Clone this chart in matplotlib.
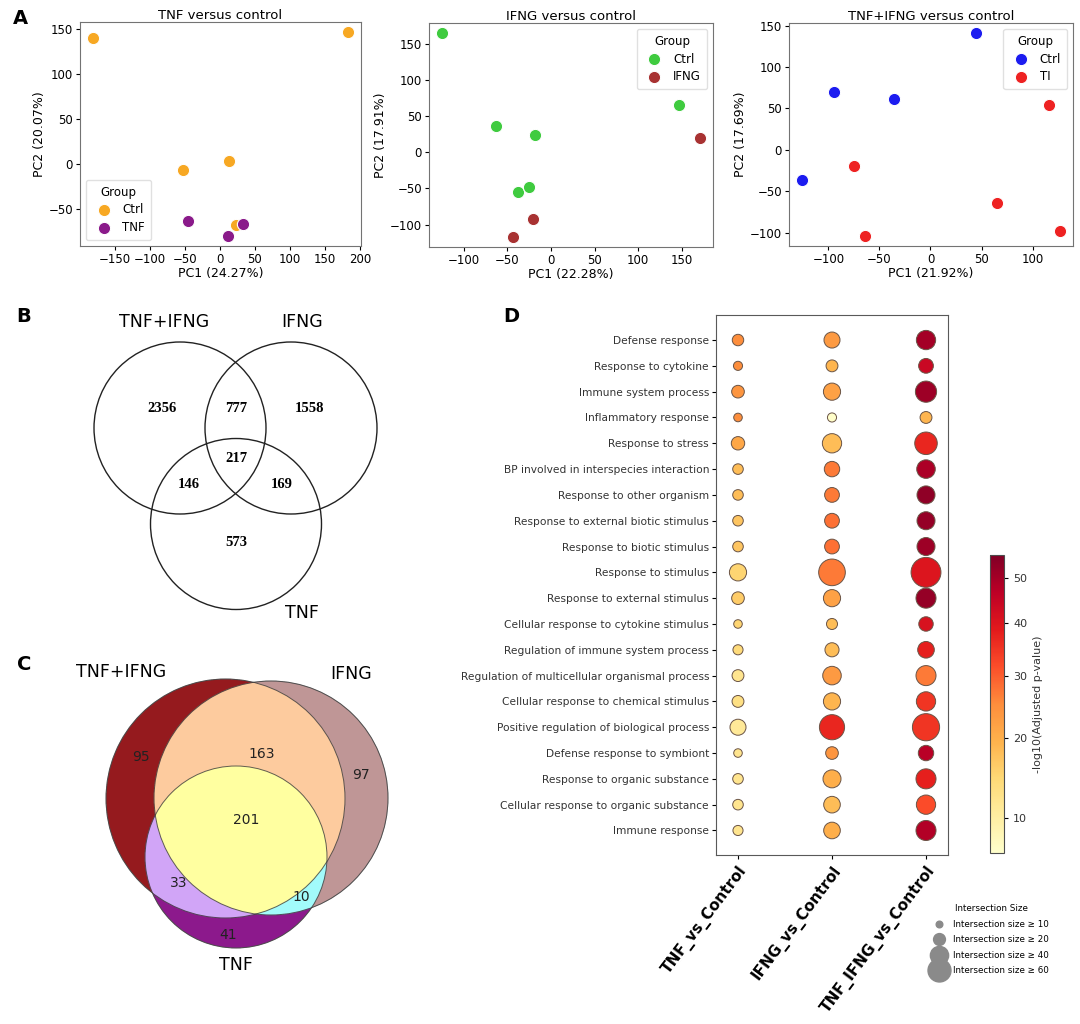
import numpy as np
import matplotlib

matplotlib.use("Agg")
import matplotlib.pyplot as plt
from matplotlib.colors import FuncNorm, to_rgba
from matplotlib.lines import Line2D
from matplotlib.patches import Circle
from matplotlib.ticker import MultipleLocator

W, H = 1080, 1024

# ---------------- panel A: PCA scores ----------------
tnf_ctrl_pc1 = [-181, 183, -52, 13, 23]
tnf_ctrl_pc2 = [139, 146, -7, 3, -68]
tnf_trt_pc1 = [-45, 12, 33]
tnf_trt_pc2 = [-64, -80, -67]

ifng_ctrl_pc1 = [-125, -63, -18, -38, -25, 147]
ifng_ctrl_pc2 = [165, 36, 24, -55, -48, 65]
ifng_trt_pc1 = [171, -21, -44]
ifng_trt_pc2 = [20, -92, -117]

ti_ctrl_pc1 = [45, -95, -36, -126]
ti_ctrl_pc2 = [141, 70, 62, -37]
ti_trt_pc1 = [-75, -64, 65, 116, 127]
ti_trt_pc2 = [-20, -104, -64, 54, -98]

pca_titles = ["TNF versus control", "IFNG versus control", "TNF+IFNG versus control"]
pc1_labels = ["PC1 (24.27%)", "PC1 (22.28%)", "PC1 (21.92%)"]
pc2_labels = ["PC2 (20.07%)", "PC2 (17.91%)", "PC2 (17.69%)"]

# ---------------- panels B / C: Venn counts ----------------
# region order: TI only, TI&IFNG, IFNG only, all three, TI&TNF, IFNG&TNF, TNF only
venn_b_counts = [2356, 777, 1558, 217, 146, 169, 573]
venn_c_counts = [95, 163, 97, 201, 33, 10, 41]
venn_sets = ["TNF+IFNG", "IFNG", "TNF"]

# ---------------- panel D: GO enrichment ----------------
go_terms = [
    "Defense response",
    "Response to cytokine",
    "Immune system process",
    "Inflammatory response",
    "Response to stress",
    "BP involved in interspecies interaction",
    "Response to other organism",
    "Response to external biotic stimulus",
    "Response to biotic stimulus",
    "Response to stimulus",
    "Response to external stimulus",
    "Cellular response to cytokine stimulus",
    "Regulation of immune system process",
    "Regulation of multicellular organismal process",
    "Cellular response to chemical stimulus",
    "Positive regulation of biological process",
    "Defense response to symbiont",
    "Response to organic substance",
    "Cellular response to organic substance",
    "Immune response",
]
comparisons = ["TNF_vs_Control", "IFNG_vs_Control", "TNF_IFNG_vs_Control"]
logp_tnf = [25, 25, 24, 25, 21, 18, 18, 17, 17, 15, 16, 15, 14, 12, 13, 11, 12, 12, 12, 12]
logp_ifng = [23, 19, 22, 7, 18, 27, 27, 28, 28, 27, 22, 18, 18, 23, 19, 37, 24, 20, 18, 20]
logp_ti = [50, 44, 51, 19, 37, 49, 53, 52, 51, 40, 52, 41, 38, 27, 35, 35, 47, 38, 32, 48]
size_tnf = [19, 14, 22, 13, 24, 17, 17, 17, 17, 36, 22, 13, 16, 20, 20, 32, 13, 17, 17, 16]
size_ifng = [32, 20, 36, 14, 44, 30, 28, 28, 28, 79, 36, 18, 26, 41, 36, 71, 22, 39, 34, 34]
size_ti = [44, 28, 52, 20, 58, 41, 39, 39, 39, 98, 47, 27, 34, 47, 44, 82, 30, 47, 44, 47]
legend_sizes = [10, 20, 40, 60]


def px_axes(fig, x0, y0, x1, y1):
    return fig.add_axes([x0 / W, 1 - y1 / H, (x1 - x0) / W, (y1 - y0) / H])


def marker_area(n):
    return 5.0 * np.asarray(n, float) - 27


def panel_letter(fig, x, y, s):
    fig.text(x / W, 1 - y / H, s, fontsize=14, fontweight="bold", ha="left", va="center")


def pca_panel(ax, title, xlabel, ylabel, groups, loc):
    for name, color, xs, ys in groups:
        ax.scatter(xs, ys, s=78, color=color, edgecolor="white", linewidth=0.8,
                   label=name, zorder=3)
    ax.margins(0.05)
    ax.xaxis.set_major_locator(MultipleLocator(50))
    ax.yaxis.set_major_locator(MultipleLocator(50))
    ax.set_title(title, fontsize=9.5, pad=2)
    ax.set_xlabel(xlabel, fontsize=9, labelpad=1)
    ax.set_ylabel(ylabel, fontsize=9, labelpad=2)
    ax.tick_params(labelsize=8.5, length=3, width=0.8, pad=2)
    for sp in ax.spines.values():
        sp.set_color("0.45")
    leg = ax.legend(title="Group", loc=loc, fontsize=8.5, title_fontsize=8.5,
                    frameon=True, handletextpad=0.6, borderpad=0.5,
                    labelspacing=0.4, markerscale=1.0)
    leg.get_frame().set_edgecolor("0.85")


def region_codes(xx, yy, circles):
    code = np.zeros(xx.shape, int)
    for bit, (cx, cy, r) in enumerate(circles):
        code += (((xx - cx) ** 2 + (yy - cy) ** 2) <= r ** 2).astype(int) << bit
    return code


def main():
    fig = plt.figure(figsize=(W / 100, H / 100), dpi=100)

    # ---------- A ----------
    pca_groups = [
        [("Ctrl", "#f7a823", tnf_ctrl_pc1, tnf_ctrl_pc2),
         ("TNF", "#8a1a8a", tnf_trt_pc1, tnf_trt_pc2)],
        [("Ctrl", "#3fcb3f", ifng_ctrl_pc1, ifng_ctrl_pc2),
         ("IFNG", "#a83232", ifng_trt_pc1, ifng_trt_pc2)],
        [("Ctrl", "#1c1cf0", ti_ctrl_pc1, ti_ctrl_pc2),
         ("TI", "#ee2222", ti_trt_pc1, ti_trt_pc2)],
    ]
    boxes = [(80, 22, 361, 246), (429, 23, 713, 247), (789, 23, 1073, 246)]
    locs = ["lower left", "upper right", "upper right"]
    for i in range(3):
        ax = px_axes(fig, *boxes[i])
        pca_panel(ax, pca_titles[i], pc1_labels[i], pc2_labels[i], pca_groups[i], locs[i])
    panel_letter(fig, 13, 19, "A")

    # ---------- B ----------
    axb = px_axes(fig, 60, 310, 420, 630)
    axb.set_xlim(60, 420)
    axb.set_ylim(630, 310)
    axb.axis("off")
    b_circles = [(180, 428, 86), (291, 428, 86), (236, 524, 85.5)]
    for cx, cy, r in b_circles:
        axb.add_patch(Circle((cx, cy), r, fill=False, ec="#222222", lw=1.0))
    b_text_xy = [(162, 408), (236, 408), (310, 408), (236, 458), (189, 484), (282, 484), (236, 542)]
    for (tx, ty), n in zip(b_text_xy, venn_b_counts):
        axb.text(tx, ty, str(n), ha="center", va="center", fontsize=10.5,
                 fontweight="bold", family="Liberation Serif")
    for (tx, ty), s in zip([(164, 322), (302, 322), (302, 613)], venn_sets):
        axb.text(tx, ty, s, ha="center", va="center", fontsize=12.5)
    panel_letter(fig, 16, 317, "B")

    # ---------- C ----------
    x0, y0, x1, y1 = 60, 650, 420, 990
    axc = px_axes(fig, x0, y0, x1, y1)
    c_circles = [(225.5, 798.5, 119.5), (271, 798, 117), (236, 857, 91)]
    region_colors = {1: "#951a1e", 2: "#bf9797", 3: "#fdcb9e", 4: "#8c198c",
                     5: "#d2a5f8", 6: "#a2fbfb", 7: "#ffffa0"}
    gx = np.arange(x0, x1, 0.25) + 0.125
    gy = np.arange(y0, y1, 0.25) + 0.125
    xx, yy = np.meshgrid(gx, gy)
    code = region_codes(xx, yy, c_circles)
    img = np.zeros(code.shape + (4,))
    for k, col in region_colors.items():
        img[code == k] = to_rgba(col)
    axc.imshow(img, extent=(x0, x1, y1, y0), origin="upper", aspect="auto",
               interpolation="bilinear")
    for cx, cy, r in c_circles:
        axc.add_patch(Circle((cx, cy), r, fill=False, ec="#3a3a3a", lw=0.7, alpha=0.8))
    axc.set_xlim(x0, x1)
    axc.set_ylim(y1, y0)
    axc.axis("off")
    c_text_xy = [(141, 757), (262, 754), (361, 775), (246, 820), (179, 883), (301, 897), (228, 935)]
    for (tx, ty), n in zip(c_text_xy, venn_c_counts):
        axc.text(tx, ty, str(n), ha="center", va="center", fontsize=10, color="#222222")
    for (tx, ty), s in zip([(121, 672), (351, 674), (236, 965)], venn_sets):
        axc.text(tx, ty, s, ha="center", va="center", fontsize=12.5)
    panel_letter(fig, 17, 664, "C")

    # ---------- D ----------
    axd = px_axes(fig, 716, 315, 948, 855)
    norm = FuncNorm((np.sqrt, np.square), vmin=6.75, vmax=55.3)
    rows = np.arange(len(go_terms))
    sc = None
    for j, (lp, sz) in enumerate([(logp_tnf, size_tnf), (logp_ifng, size_ifng), (logp_ti, size_ti)]):
        sc = axd.scatter(np.full(len(rows), j), rows, s=marker_area(sz), c=lp, cmap="YlOrRd",
                         norm=norm, edgecolor="#6a5446", linewidth=0.7, zorder=3)
    axd.set_xlim(-0.234, 2.234)
    axd.set_ylim(len(go_terms) - 0.05, -0.97)
    axd.set_yticks(rows, go_terms)
    axd.set_xticks(range(3), comparisons, rotation=53, ha="right", rotation_mode="anchor",
                   fontweight="bold", fontsize=11)
    axd.tick_params(axis="y", labelsize=7.7, length=3, width=0.8, pad=2, labelcolor="#333333")
    axd.tick_params(axis="x", length=3, width=0.8, pad=3)
    for sp in axd.spines.values():
        sp.set_color("0.35")
    panel_letter(fig, 503, 317, "D")

    cax = px_axes(fig, 990, 555, 1004, 853)
    cb = fig.colorbar(sc, cax=cax)
    cb.set_ticks([10, 20, 30, 40, 50])
    cb.ax.tick_params(labelsize=8, length=3, width=0.8, labelcolor="#333333")
    cb.set_label("-log10(Adjusted p-value)", fontsize=8, color="#333333", labelpad=4)
    cb.outline.set_edgecolor("0.3")

    handles = [Line2D([], [], ls="", marker="o", color="#8a8a8a",
                      markersize=np.sqrt(marker_area(n))) for n in legend_sizes]
    labels = [f"Intersection size \u2265 {n}" for n in legend_sizes]
    fig.legend(handles, labels, title="Intersection Size", loc="upper left",
               bbox_to_anchor=(928 / W, 1 - 898 / H), frameon=False, fontsize=6.3,
               title_fontsize=6.3, labelspacing=0.75, handletextpad=1.0,
               handlelength=1.2, borderpad=0.2)

    fig.savefig("out.png", dpi=100)


if __name__ == "__main__":
    main()
